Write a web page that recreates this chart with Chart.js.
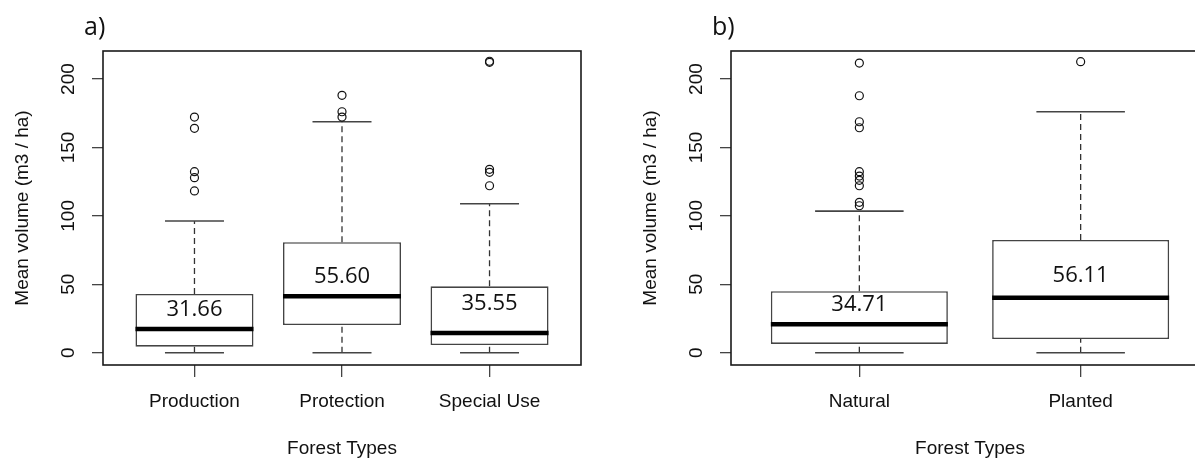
<!DOCTYPE html>
<html><head><meta charset="utf-8">
<script src="https://cdn.jsdelivr.net/npm/chart.js@4"></script>
<style>
html,body{margin:0;padding:0;background:#fff;overflow:hidden;width:1195px;height:462px}
#wrap{position:relative;width:1256px;height:462px}
.panel{position:absolute;top:0;width:628px;height:462px}
</style></head><body>
<div id="wrap">
<div class="panel" style="left:0"><canvas id="ca" width="628" height="462"></canvas></div>
<div class="panel" style="left:628px"><canvas id="cb" width="628" height="462"></canvas></div>
</div>
<script>
// ---- data ----
const yTickStep = 50;
const yMin = -9, yMax = 220.5;

const catsA  = ['Production', 'Protection', 'Special Use'];
const loA    = [0, 0, 0];
const q1A    = [4.4, 20.2, 5.6];
const medA   = [17.3, 41.2, 14.4];
const q3A    = [42.9, 80.7, 48.5];
const hiA    = [96.2, 168.8, 108.9];
const meanA  = [31.66, 55.60, 35.55];
const outA   = [[172.2, 164.0, 132.3, 127.9, 118.2], [188.1, 176.1, 172.2], [213.0, 212.2, 134.0, 131.8, 122.0]];

const catsB  = ['Natural', 'Planted'];
const loB    = [0, 0];
const q1B    = [6.4, 10.0];
const medB   = [20.7, 40.2];
const q3B    = [44.9, 82.4];
const hiB    = [103.5, 176.1];
const meanB  = [34.71, 56.11];
const outB   = [[211.7, 187.8, 168.8, 164.4, 132.3, 129.1, 126.0, 122.0, 109.9, 107.4], [212.7]];

const xTitle = 'Forest Types';
const yTitle = 'Mean volume (m3 / ha)';

// ---- chart builder ----
const AXIS_FONT = {family: 'Liberation Sans, Arial, sans-serif', size: 19};
const INK = '#111';

function makeChart(id, cats, lo, q1, med, q3, hi, means, outs, panelLabel) {
  const n = cats.length;
  const xMin = 0.5 - 0.04 * n, xMax = n + 0.5 + 0.04 * n;
  const pos = cats.map((c, i) => i + 1);
  const unitPx = (chart, u) => chart.scales.x.getPixelForValue(1 + u) - chart.scales.x.getPixelForValue(1);

  const boxData = pos.map((x, i) => ({x, y: [q1[i], q3[i]]}));
  const medData = pos.map((x, i) => ({x, y: med[i]}));
  const capData = [];
  pos.forEach((x, i) => { capData.push({x, y: lo[i]}); capData.push({x, y: hi[i]}); });
  const whiskData = [];
  pos.forEach((x, i) => {
    whiskData.push({x, y: q3[i]}, {x, y: hi[i]}, {x, y: null},
                   {x, y: lo[i]}, {x, y: q1[i]}, {x, y: null});
  });
  const outData = [];
  outs.forEach((arr, i) => arr.forEach(v => outData.push({x: pos[i], y: v})));

  const decor = {
    id: 'decor' + id,
    afterDatasetsDraw(chart) {
      const {ctx, chartArea: a, scales: {x, y}} = chart;
      ctx.save();
      // frame
      ctx.strokeStyle = '#1a1a1a';
      ctx.lineWidth = 1.6;
      ctx.strokeRect(a.left, a.top, a.right - a.left, a.bottom - a.top);
      // mean labels
      ctx.fillStyle = INK;
      ctx.font = '22px "Open Sans", sans-serif';
      ctx.textAlign = 'center';
      ctx.textBaseline = 'middle';
      means.forEach((m, i) => ctx.fillText(m.toFixed(2), x.getPixelForValue(pos[i]), y.getPixelForValue(m)));
      // panel label
      ctx.font = '25px "Open Sans", sans-serif';
      ctx.textAlign = 'left';
      ctx.fillText(panelLabel, a.left - 19, a.top - 23);
      ctx.restore();
    }
  };

  return new Chart(document.getElementById(id), {
    type: 'bar',
    data: {
      datasets: [
        {type: 'line', data: whiskData, borderColor: '#333', borderWidth: 1.3, borderDash: [6, 4],
         pointRadius: 0, spanGaps: false, fill: false, order: 5},
        {type: 'bar', data: boxData, backgroundColor: 'rgba(255,255,255,1)', borderColor: '#444',
         borderWidth: 1.6, borderSkipped: false, grouped: false, barPercentage: 1, categoryPercentage: 0.8, order: 4},
        {type: 'scatter', data: medData, pointStyle: 'line', borderColor: '#000', borderWidth: 4.5,
         pointRadius: ctx => unitPx(ctx.chart, 0.4), pointHoverRadius: ctx => unitPx(ctx.chart, 0.4), order: 3},
        {type: 'scatter', data: capData, pointStyle: 'line', borderColor: '#444', borderWidth: 1.6,
         pointRadius: ctx => unitPx(ctx.chart, 0.2), pointHoverRadius: ctx => unitPx(ctx.chart, 0.2), order: 2},
        {type: 'scatter', data: outData, pointStyle: 'circle', pointRadius: 4, borderColor: '#111',
         backgroundColor: 'rgba(0,0,0,0)', borderWidth: 1.2, order: 1}
      ]
    },
    options: {
      responsive: false,
      animation: false,
      events: [],
      layout: {padding: {top: 51, right: 47, left: 0, bottom: 0}},
      plugins: {legend: {display: false}, tooltip: {enabled: false}},
      scales: {
        x: {
          type: 'linear', min: xMin, max: xMax, offset: false,
          afterFit: s => { s.height = 97; },
          border: {display: false},
          grid: {offset: false, drawOnChartArea: false, drawTicks: true, tickLength: 12, color: '#444', lineWidth: 1.3},
          ticks: {stepSize: 1, includeBounds: false, autoSkip: false, maxRotation: 0, padding: 13,
                  color: INK, font: AXIS_FONT, callback: v => cats[Math.round(v) - 1] || ''},
          title: {display: true, text: xTitle, color: INK, font: AXIS_FONT, padding: {top: 0, bottom: 2}}
        },
        y: {
          type: 'linear', min: yMin, max: yMax,
          afterFit: s => { s.width = 103; },
          border: {display: false},
          grid: {offset: false, drawOnChartArea: false, drawTicks: true, tickLength: 11, color: '#444', lineWidth: 1.3},
          ticks: {stepSize: yTickStep, includeBounds: false, autoSkip: false, minRotation: 90, maxRotation: 90,
                  crossAlign: 'center', padding: 7, color: INK, font: AXIS_FONT},
          title: {display: true, text: yTitle, color: INK, font: AXIS_FONT, padding: {top: 11, bottom: 0}}
        }
      }
    },
    plugins: [decor]
  });
}

makeChart('ca', catsA, loA, q1A, medA, q3A, hiA, meanA, outA, 'a)');
makeChart('cb', catsB, loB, q1B, medB, q3B, hiB, meanB, outB, 'b)');
</script>
</body></html>
